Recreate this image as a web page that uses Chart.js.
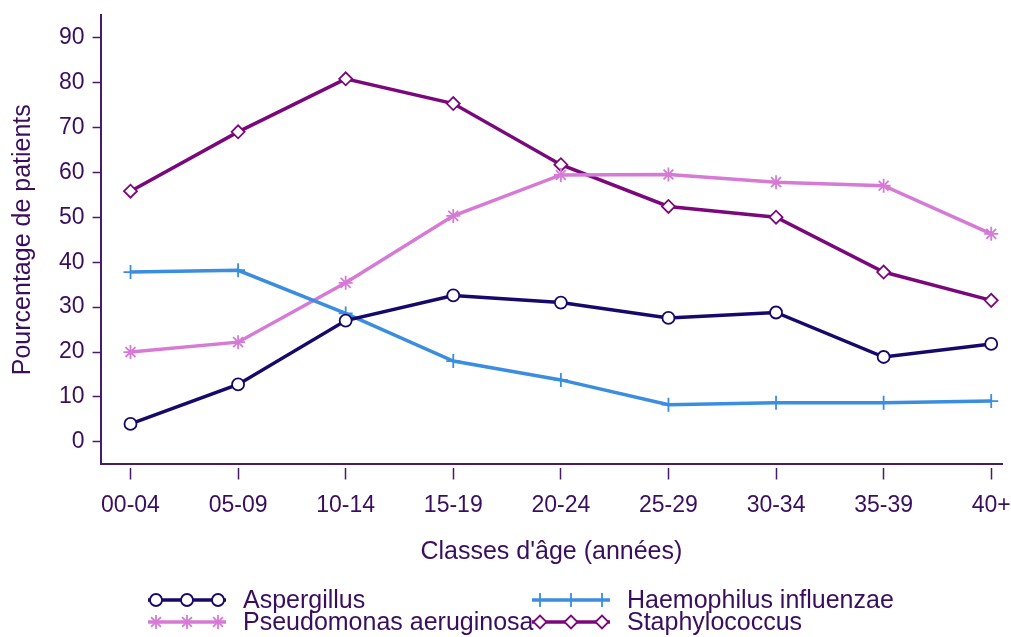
<!DOCTYPE html>
<html>
<head>
<meta charset="utf-8">
<script src="https://cdn.jsdelivr.net/npm/chart.js@4/dist/chart.umd.min.js"></script>
<style>
  html, body { margin: 0; padding: 0; background: #ffffff; }
  #wrap { width: 1011px; height: 637px; position: relative; }
</style>
</head>
<body>
<div id="wrap"><canvas id="c" width="1011" height="637"></canvas></div>
<script>
const categories = ['00-04', '05-09', '10-14', '15-19', '20-24', '25-29', '30-34', '35-39', '40+'];
const yTicks = [0, 10, 20, 30, 40, 50, 60, 70, 80, 90];
const aspergillus   = [4.0, 12.8, 27.0, 32.6, 31.0, 27.6, 28.8, 18.9, 21.8];
const haemophilus   = [37.8, 38.2, 28.6, 18.0, 13.8, 8.3, 8.7, 8.7, 9.1];
const pseudomonas   = [20.0, 22.2, 35.4, 50.3, 59.4, 59.5, 57.8, 57.0, 46.3];
const staphylococcus = [55.8, 69.0, 80.8, 75.3, 61.7, 52.4, 50.0, 37.8, 31.5];
const seriesNames = ['Aspergillus', 'Haemophilus influenzae', 'Pseudomonas aeruginosa', 'Staphylococcus'];

const TEXT = '#3a0e5e';
const AXIS = '#4a1a6a';
const FONT = "'Liberation Sans', Arial, sans-serif";

function pts(vals) { return vals.map((v, i) => ({ x: i, y: v })); }

const styles = [
  { color: '#150a6b', pointStyle: 'circle', radius: 6 },
  { color: '#3b8de0', pointStyle: 'cross', radius: 7 },
  { color: '#d67ad6', pointStyle: 'star', radius: 7 },
  { color: '#7b087b', pointStyle: 'rectRot', radius: 6.5 }
];
const allVals = [aspergillus, haemophilus, pseudomonas, staphylococcus];

const datasets = allVals.map((vals, k) => ({
  label: seriesNames[k],
  data: pts(vals),
  borderColor: styles[k].color,
  backgroundColor: styles[k].color,
  borderWidth: 3.5,
  pointStyle: styles[k].pointStyle,
  pointRadius: styles[k].radius,
  pointHoverRadius: styles[k].radius,
  pointBorderColor: styles[k].color,
  pointBackgroundColor: '#ffffff',
  pointBorderWidth: 1.8,
  tension: 0,
  fill: false,
  clip: false
}));

const legendPlugin = {
  id: 'customLegend',
  afterDraw(chart) {
    const ctx = chart.ctx;
    const items = [
      { k: 0, x: 148, y: 600 },
      { k: 1, x: 532, y: 600 },
      { k: 2, x: 148, y: 622 },
      { k: 3, x: 532, y: 622 }
    ];
    ctx.save();
    items.forEach(it => {
      const s = styles[it.k];
      const len = 78;
      ctx.strokeStyle = s.color;
      ctx.lineWidth = 3.5;
      ctx.beginPath();
      ctx.moveTo(it.x, it.y);
      ctx.lineTo(it.x + len, it.y);
      ctx.stroke();
      [8, 39, 70].forEach(dx => {
        ctx.fillStyle = '#ffffff';
        ctx.strokeStyle = s.color;
        ctx.lineWidth = 1.8;
        Chart.helpers.drawPoint(ctx, { pointStyle: s.pointStyle, radius: s.radius, borderWidth: 1.8, rotation: 0 }, it.x + dx, it.y);
      });
      ctx.fillStyle = TEXT;
      ctx.font = '25px ' + FONT;
      ctx.textBaseline = 'middle';
      ctx.textAlign = 'left';
      ctx.fillText(seriesNames[it.k], it.x + 95, it.y + 1);
    });
    ctx.restore();
  }
};

new Chart(document.getElementById('c'), {
  type: 'line',
  data: { datasets },
  options: {
    responsive: false,
    animation: false,
    devicePixelRatio: 1,
    layout: { padding: { left: 6, right: 0, top: 15, bottom: 70 } },
    plugins: { legend: { display: false }, tooltip: { enabled: false } },
    scales: {
      x: {
        type: 'linear',
        min: -0.278,
        max: 8.102,
        afterBuildTicks(scale) { scale.ticks = categories.map((c, i) => ({ value: i })); },
        afterFit(scale) { scale.paddingLeft = 0; scale.paddingRight = 0; },
        ticks: {
          includeBounds: false,
          autoSkip: false,
          maxRotation: 0,
          padding: 12,
          color: TEXT,
          font: { family: FONT, size: 23 },
          callback: (v) => categories[v] !== undefined ? categories[v] : ''
        },
        grid: {
          drawOnChartArea: false,
          drawTicks: true,
          tickLength: 15,
          tickColor: AXIS,
          tickWidth: 1.5,
          tickBorderDash: [0, 3, 12, 40]
        },
        border: { display: true, color: AXIS, width: 2 },
        title: {
          display: true,
          text: "Classes d'âge (années)",
          color: TEXT,
          font: { family: FONT, size: 25 },
          padding: { top: 6, bottom: 0 }
        }
      },
      y: {
        type: 'linear',
        min: -5,
        max: 95,
        afterBuildTicks(scale) { scale.ticks = yTicks.map(v => ({ value: v })); },
        afterFit(scale) { scale.paddingTop = 0; scale.paddingBottom = 0; },
        ticks: {
          includeBounds: false,
          padding: 8,
          color: TEXT,
          font: { family: FONT, size: 23 }
        },
        grid: {
          drawOnChartArea: false,
          drawTicks: true,
          tickLength: 8,
          tickColor: AXIS,
          tickWidth: 1.5
        },
        border: { display: true, color: AXIS, width: 2 },
        title: {
          display: true,
          text: 'Pourcentage de patients',
          color: TEXT,
          font: { family: FONT, size: 25 },
          padding: { top: 2, bottom: 13 }
        }
      }
    }
  },
  plugins: [legendPlugin]
});
</script>
</body>
</html>
